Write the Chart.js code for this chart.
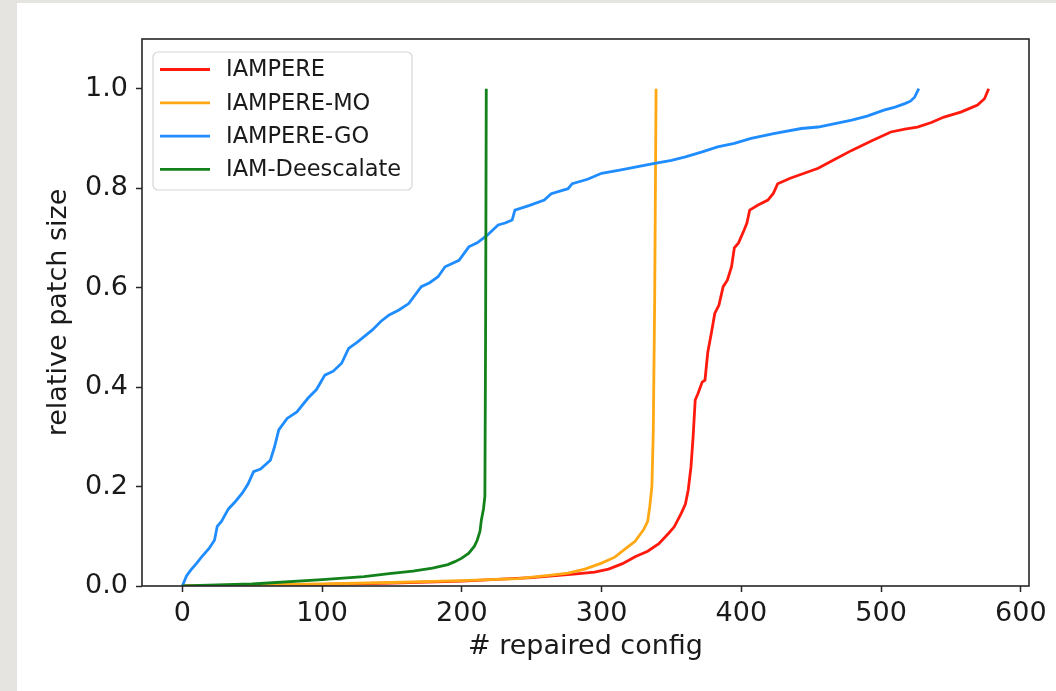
<!DOCTYPE html>
<html>
<head>
<meta charset="utf-8">
<script src="https://cdn.jsdelivr.net/npm/chart.js@4"></script>
<style>
    html, body { margin: 0; padding: 0; }
    body { width: 1056px; height: 691px; background: #e6e4e1; position: relative; overflow: hidden; }
    #panel { position: absolute; left: 17px; top: 3px; right: 0; bottom: 0; background: #fff; }
    #myChart { position: absolute; left: 0; top: 0; }
</style>
</head>
<body>
<div id="panel"></div>
<canvas id="myChart" width="1056" height="691"></canvas>
<script>
// values
var seriesNames = ['IAMPERE', 'IAMPERE-MO', 'IAMPERE-GO', 'IAM-Deescalate'];
var seriesColors = ['#ff1a0d', '#ffa814', '#1f8cff', '#13821a'];

var xTicks = [0, 100, 200, 300, 400, 500, 600];
var yTicks = [0, 0.2, 0.4, 0.6, 0.8, 1.0];

var iampereX = [0, 50, 100, 150, 200, 250, 280, 295, 305, 315, 324, 333, 341, 348, 352, 357, 360, 362, 364, 365.5, 367, 369, 372, 374, 376, 378.5, 381, 384, 387, 390, 393, 395, 398, 402, 404, 406, 412, 419, 423, 426, 435, 445, 455, 467, 479, 493, 507, 517, 526, 536, 545, 557, 563, 569, 574, 577];
var iampereY = [0, 0.001, 0.003, 0.006, 0.01, 0.017, 0.024, 0.028, 0.034, 0.045, 0.059, 0.07, 0.085, 0.106, 0.119, 0.146, 0.165, 0.193, 0.24, 0.3, 0.374, 0.387, 0.41, 0.414, 0.47, 0.508, 0.548, 0.565, 0.602, 0.615, 0.642, 0.68, 0.69, 0.716, 0.73, 0.756, 0.766, 0.776, 0.79, 0.809, 0.82, 0.83, 0.84, 0.858, 0.876, 0.895, 0.913, 0.919, 0.923, 0.932, 0.943, 0.953, 0.96, 0.967, 0.98, 1.0];

var moX = [0, 50, 100, 150, 200, 240, 264, 276, 288, 300, 309.5, 319, 324, 330, 333, 334.5, 336, 337, 338, 339];
var moY = [0, 0.002, 0.004, 0.007, 0.011, 0.015, 0.022, 0.026, 0.034, 0.046, 0.058, 0.079, 0.09, 0.113, 0.13, 0.16, 0.2, 0.31, 0.575, 1.0];

var goX = [0, 3, 6, 10, 14, 19, 23, 25, 28, 33, 38, 43, 47, 51, 56, 63, 66, 69, 75, 82, 90, 96, 102, 108, 114, 119, 125, 136, 142, 148, 155, 162, 171, 177, 183, 188, 198, 205, 211, 218, 226, 231, 236, 238, 248, 259, 264, 276, 279, 290, 300, 312, 325, 338, 350, 360, 372, 383, 395, 407, 424, 443, 455, 467, 479, 490, 502, 510, 517, 521, 524, 527];
var goY = [0, 0.02, 0.032, 0.045, 0.059, 0.075, 0.092, 0.12, 0.13, 0.155, 0.17, 0.187, 0.205, 0.23, 0.235, 0.253, 0.28, 0.314, 0.337, 0.35, 0.378, 0.395, 0.424, 0.432, 0.448, 0.478, 0.49, 0.515, 0.532, 0.545, 0.555, 0.568, 0.602, 0.61, 0.622, 0.642, 0.655, 0.682, 0.69, 0.705, 0.726, 0.73, 0.736, 0.756, 0.765, 0.776, 0.789, 0.799, 0.809, 0.818, 0.83, 0.836, 0.843, 0.85, 0.856, 0.863, 0.873, 0.883, 0.89, 0.9, 0.91, 0.92, 0.923, 0.93, 0.937, 0.945, 0.957, 0.963, 0.97, 0.975, 0.983, 1.0];

var deescX = [0, 50, 100, 130, 148, 165, 179, 190, 195, 200, 205, 209, 211, 213, 214, 215.5, 216.5, 217, 217.5];
var deescY = [0, 0.004, 0.013, 0.019, 0.025, 0.03, 0.036, 0.043, 0.049, 0.056, 0.066, 0.08, 0.092, 0.11, 0.133, 0.155, 0.18, 0.5, 1.0];

var font = 'DejaVu Sans';
var textColor = '#1a1a1a';

function toPoints(xs, ys){
    var pts = [];
    for(var i = 0; i < xs.length; i++){
        pts.push({x: xs[i], y: ys[i]});
    }
    return pts;
}

function makeDataset(i, xs, ys){
    return {
        label: seriesNames[i],
        data: toPoints(xs, ys),
        borderColor: seriesColors[i],
        backgroundColor: seriesColors[i],
        borderWidth: 2.8,
        pointRadius: 0,
        tension: 0,
        fill: false,
        // matplotlib draws later lines on top
        order: 3 - i
    };
}

// box round the plot area, like matplotlib spines
var frame = {
    id: 'frame',
    afterDatasetsDraw: function(chart){
        var ctx = chart.ctx;
        var a = chart.chartArea;
        ctx.save();
        ctx.strokeStyle = '#262626';
        ctx.lineWidth = 1.6;
        ctx.strokeRect(a.left, a.top, a.right - a.left, a.bottom - a.top);
        ctx.restore();
    }
};

// legend drawn inside the plot, upper left
var legendBox = {
    id: 'legendBox',
    afterDraw: function(chart){
        var ctx = chart.ctx;
        var a = chart.chartArea;
        var x = a.left + 11, y = a.top + 13, w = 259, h = 138, r = 5;
        ctx.save();
        ctx.beginPath();
        ctx.moveTo(x + r, y);
        ctx.arcTo(x + w, y, x + w, y + h, r);
        ctx.arcTo(x + w, y + h, x, y + h, r);
        ctx.arcTo(x, y + h, x, y, r);
        ctx.arcTo(x, y, x + w, y, r);
        ctx.closePath();
        ctx.fillStyle = 'rgba(255,255,255,0.85)';
        ctx.fill();
        ctx.strokeStyle = '#d6d6d6';
        ctx.lineWidth = 1.2;
        ctx.stroke();

        ctx.font = '22.5px "' + font + '"';
        ctx.textBaseline = 'middle';
        ctx.fillStyle = textColor;
        var sets = chart.data.datasets;
        for(var i = 0; i < sets.length; i++){
            var ly = y + 17.5 + i * 33.3;
            ctx.strokeStyle = sets[i].borderColor;
            ctx.lineWidth = 2.8;
            ctx.beginPath();
            ctx.moveTo(x + 7, ly);
            ctx.lineTo(x + 57, ly);
            ctx.stroke();
            ctx.fillText(sets[i].label, x + 73, ly + 1);
        }
        ctx.restore();
    }
};

function chart(){
    var ctx = document.getElementById('myChart');
    var myChart = new Chart(ctx, {
        type: 'line',
        data: {
            datasets: [
                makeDataset(0, iampereX, iampereY),
                makeDataset(1, moX, moY),
                makeDataset(2, goX, goY),
                makeDataset(3, deescX, deescY)
            ]
        },
        options: {
            responsive: false,
            animation: false,
            layout: { padding: { left: 0, top: 39, right: 27, bottom: 0 } },
            plugins: {
                legend: { display: false },
                tooltip: { enabled: false }
            },
            scales: {
                x: {
                    type: 'linear',
                    min: -28.85,
                    max: 605.85,
                    afterBuildTicks: function(scale){
                        scale.ticks = xTicks.map(function(v){ return {value: v}; });
                    },
                    afterFit: function(scale){ scale.height = 105; },
                    border: { display: false },
                    grid: { drawOnChartArea: false, drawTicks: true, tickLength: 6, tickWidth: 1.5, tickColor: '#262626' },
                    ticks: {
                        padding: 6,
                        maxRotation: 0,
                        color: textColor,
                        font: { family: font, size: 27 },
                        callback: function(v){ return String(v); }
                    },
                    title: {
                        display: true,
                        text: '# repaired config',
                        color: textColor,
                        font: { family: font, size: 27 },
                        padding: { top: 0, bottom: 28 }
                    }
                },
                y: {
                    type: 'linear',
                    min: 0,
                    max: 1.1,
                    afterBuildTicks: function(scale){
                        scale.ticks = yTicks.map(function(v){ return {value: v}; });
                    },
                    afterFit: function(scale){ scale.width = 142; },
                    border: { display: false },
                    grid: { drawOnChartArea: false, drawTicks: true, tickLength: 6, tickWidth: 1.5, tickColor: '#262626' },
                    ticks: {
                        padding: 8,
                        color: textColor,
                        font: { family: font, size: 27 },
                        callback: function(v){ return v.toFixed(1); }
                    },
                    title: {
                        display: true,
                        text: 'relative patch size',
                        color: textColor,
                        font: { family: font, size: 27 },
                        padding: { top: 43, bottom: 0 }
                    }
                }
            }
        },
        plugins: [frame, legendBox]
    });
}

chart();
</script>
</body>
</html>
